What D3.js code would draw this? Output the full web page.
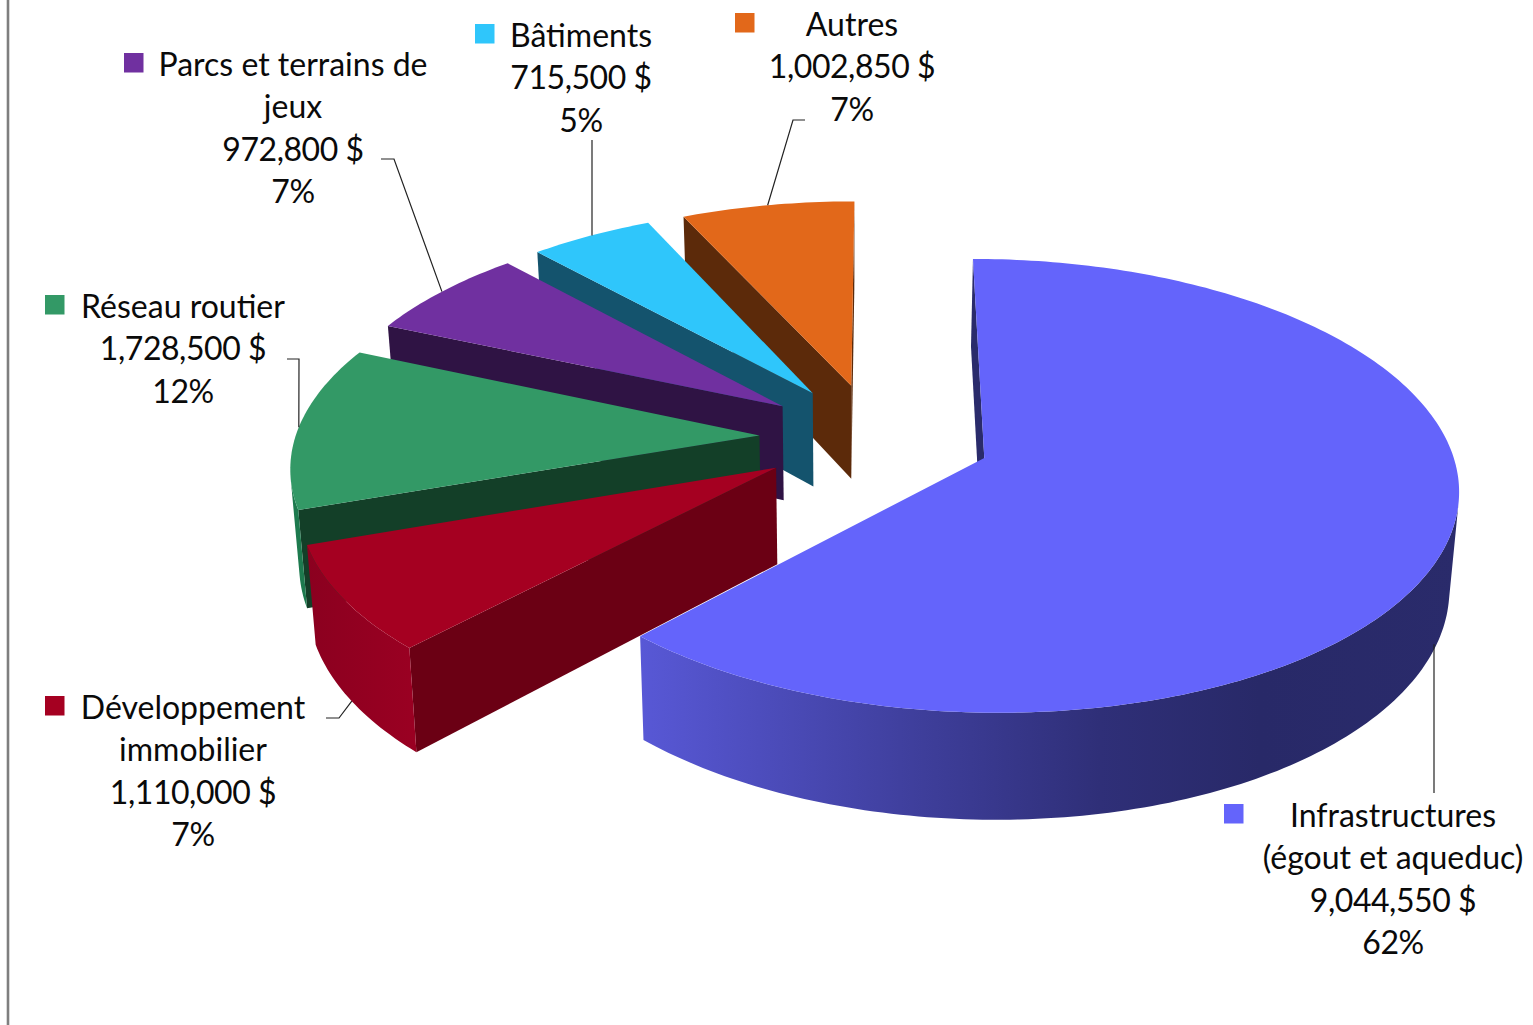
<!DOCTYPE html>
<html lang="fr">
<head>
<meta charset="utf-8">
<title>Répartition des investissements</title>
<script src="https://cdn.jsdelivr.net/npm/d3@7"></script>
<style>
  html, body { margin: 0; padding: 0; background: #fff; overflow: hidden; }
  svg { display: block; }
  text { font-family: Lato, "Open Sans", sans-serif; font-size: 32px; fill: #0a0a0a; }
  text.figure { letter-spacing: -0.45px; }
</style>
</head>
<body>
<svg id="chart" width="1533" height="1025"></svg>
<script>
// Budget lines, in pie order (clockwise from twelve o'clock)
const categories = [
  ["Infrastructures", "(égout et aqueduc)"],
  ["Développement", "immobilier"],
  ["Réseau routier"],
  ["Parcs et terrains de", "jeux"],
  ["Bâtiments"],
  ["Autres"]
];
const amounts = [9044550, 1110000, 1728500, 972800, 715500, 1002850];
const percents = [62, 7, 12, 7, 5, 7];

// Surface colours per slice
const topColors = ["#6464fb", "#a50021", "#339966", "#7030a0", "#2fc6fb", "#e2681a"];
const sideColors = ["#2a2b6b", "#6b0014", "#133f28", "#2f1344", "#14536d", "#5c2a0a"];
const wallStops = [
  [[640, "#5858d6"], [900, "#40409f"], [1100, "#2f2f78"], [1260, "#282968"], [1460, "#2a2b6b"]],
  [[300, "#8a001f"], [415, "#9a0022"]],
  [[290, "#1d7a4e"], [320, "#1d7a4e"]],
  [[380, "#4a1f6b"], [520, "#4a1f6b"]],
  [[530, "#1f7fa6"], [660, "#1f7fa6"]],
  [[680, "#96460f"], [860, "#96460f"]]
];

// Label block placement: centre x, first baseline, key corner, leader elbow points
const labelBlocks = [
  { cx: 1393, y: 827, key: [1224, 804], leader: [[1434, 793]], base: true, plumb: true },
  { cx: 193, y: 719, key: [45, 696], leader: [[326, 718], [339, 718]], base: true },
  { cx: 183, y: 318, key: [45, 295], leader: [[287, 359], [299, 359]] },
  { cx: 293, y: 76, key: [124, 53], leader: [[381, 159], [394, 159]] },
  { cx: 581, y: 47, key: [475, 24], leader: [[592, 140]], plumb: true },
  { cx: 852, y: 36, key: [735, 13], leader: [[805, 120], [793, 120]] }
];
const lineStep = 42.3;
const keySize = 19.5;

// Perspective mapping of the pie's ground plane, in radius units
const origin = { x: 985, y: 458 };
const persp = { across: 469.5, skew: -12.8, depth: 223.5, recede: 0.123 };
const pieCentre = { u: -0.2338, v: 0.0928 };
const explode = 0.25;

function project(u, v) {
  const w = 1 + persp.recede * v;
  return [
    origin.x + (persp.across * u + persp.skew * v) / w,
    origin.y - persp.depth * v / w
  ];
}
// The underside of the disc: vertical edges drop toward a shared vanishing point
function drop([x, y]) {
  return [x - 0.016 * (x - 850), y + 0.0427 * (y + 1793)];
}
function signedArea(pts) {
  return d3.sum(pts, (p, i) => {
    const q = pts[(i + 1) % pts.length];
    return p[0] * q[1] - q[0] * p[1];
  });
}

const svg = d3.select("#chart");
const defs = svg.append("defs");
const closed = d3.line().curve(d3.curveLinearClosed);

// Page rule on the left
svg.append("line")
  .attr("x1", 8).attr("x2", 8).attr("y1", 0).attr("y2", 1025)
  .attr("stroke", "#7f7f7f").attr("stroke-width", 2.6);

const arcs = d3.pie().sort(null).startAngle(0).endAngle(2 * Math.PI)(amounts);

const slices = arcs.map((a, i) => {
  const mid = (a.startAngle + a.endAngle) / 2;
  const cu = pieCentre.u + explode * Math.sin(mid);
  const cv = pieCentre.v + explode * Math.cos(mid);
  const rim = t => project(cu + Math.sin(t), cv + Math.cos(t));
  const steps = Math.max(8, Math.ceil((a.endAngle - a.startAngle) / (Math.PI / 180)));
  const angles = d3.range(steps + 1).map(k => a.startAngle + (a.endAngle - a.startAngle) * k / steps);
  return { i, mid, apex: project(cu, cv), rim, angles };
});

// Back slices first, the large slice last
const paintOrder = [5, 4, 3, 2, 1, 0];
const pieGroup = svg.append("g");

paintOrder.forEach(i => {
  const s = slices[i];
  const g = pieGroup.append("g").attr("class", "slice");
  const first = s.rim(s.angles[0]);
  const last = s.rim(s.angles[s.angles.length - 1]);

  // Radial cut faces, only where they face the viewer
  [
    [s.apex, first, drop(first), drop(s.apex)],
    [last, s.apex, drop(s.apex), drop(last)]
  ].forEach(face => {
    if (signedArea(face) < 0) {
      g.append("path").attr("d", closed(face)).attr("fill", sideColors[i]);
    }
  });

  // Outer wall: the run of rim segments turned toward the viewer
  const runs = [];
  let run = null;
  for (let k = 0; k < s.angles.length - 1; k++) {
    const p = s.rim(s.angles[k]), q = s.rim(s.angles[k + 1]);
    if (signedArea([p, q, drop(q), drop(p)]) < 0) {
      if (!run) { run = [p]; runs.push(run); }
      run.push(q);
    } else {
      run = null;
    }
  }
  const stops = wallStops[i];
  const gradId = "wall-" + i;
  const grad = defs.append("linearGradient")
    .attr("id", gradId).attr("gradientUnits", "userSpaceOnUse")
    .attr("x1", stops[0][0]).attr("x2", stops[stops.length - 1][0])
    .attr("y1", 0).attr("y2", 0);
  stops.forEach(([x, c]) => {
    grad.append("stop")
      .attr("offset", (x - stops[0][0]) / (stops[stops.length - 1][0] - stops[0][0]))
      .attr("stop-color", c);
  });
  runs.forEach(r => {
    g.append("path")
      .attr("d", closed(r.concat(r.map(drop).reverse())))
      .attr("fill", `url(#${gradId})`);
  });

  // Top surface
  g.append("path")
    .attr("d", closed([s.apex].concat(s.angles.map(s.rim))))
    .attr("fill", topColors[i]);
});

// Leader lines run from each label to the rim at the slice's middle angle
const polyline = d3.line();
labelBlocks.forEach((b, i) => {
  const s = slices[i];
  const onRim = s.rim(s.mid);
  const end = b.base ? drop(onRim) : onRim;
  if (b.plumb) end[0] = b.leader[b.leader.length - 1][0];
  svg.append("path")
    .attr("d", polyline(b.leader.concat([end])))
    .attr("fill", "none").attr("stroke", "#222").attr("stroke-width", 1.2);
});

// Label blocks with their colour keys
labelBlocks.forEach((b, i) => {
  svg.append("rect")
    .attr("x", b.key[0]).attr("y", b.key[1])
    .attr("width", keySize).attr("height", keySize)
    .attr("fill", topColors[i]);
  const names = categories[i];
  const lines = names.concat([
    d3.format(",")(amounts[i]) + " $",
    percents[i] + "%"
  ]);
  lines.forEach((t, k) => {
    svg.append("text")
      .attr("class", k >= names.length ? "figure" : null)
      .attr("text-anchor", "middle")
      .attr("x", b.cx)
      .attr("y", b.y + k * lineStep)
      .text(t);
  });
});
</script>
</body>
</html>
